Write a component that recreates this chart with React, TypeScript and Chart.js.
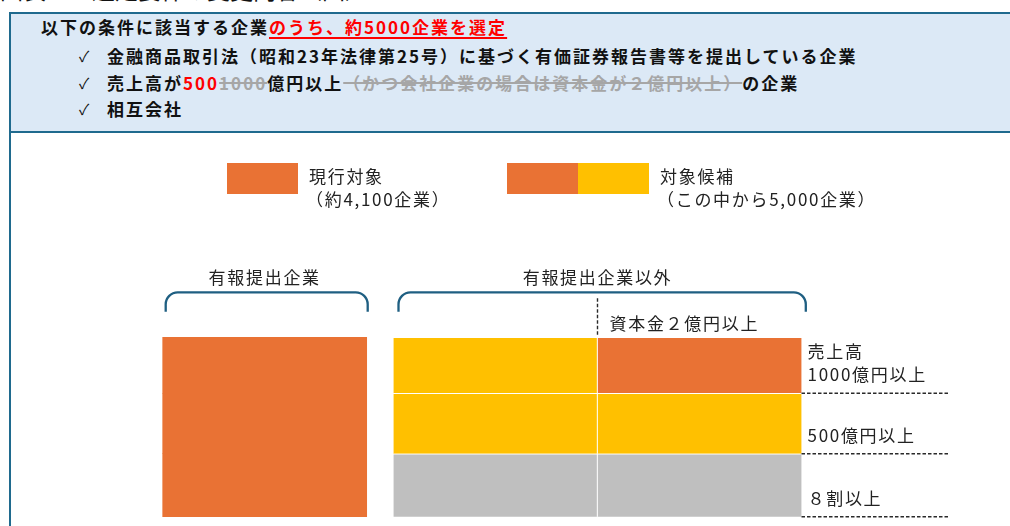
import React, { useEffect, useRef } from "react";
import { Chart, registerables } from "chart.js";

Chart.register(...registerables);

// ---------- data ----------
const groupLabels = ["有報提出企業", "有報提出企業以外"];
const capitalLabel = "資本金２億円以上";
// tiers from bottom to top
const rowLabels = [["８割以上"], ["500億円以上"], ["売上高", "1000億円以上"]];
const rowSizes = [63, 60.5, 56];
const leftColors = ["orange", "orange", "orange"];
const capLowColors = ["gray", "yellow", "yellow"];
const capHighColors = ["gray", "yellow", "orange"];
const legendTitles = ["現行対象", "対象候補"];
const legendNotes = ["（約4,100企業）", "（この中から5,000企業）"];

const PALETTE: Record<string, string> = {
  orange: "#E97234",
  yellow: "#FFC000",
  gray: "#BFBFBF",
};
const BORDER = "#1F6A8E";
const BRACKET = "#1F5F82";
const TEXT = "#222222";
const FONT = '"Noto Sans CJK JP", "Noto Sans", sans-serif';

const total = rowSizes.reduce((s, v) => s + v, 0);

const overlayPlugin = {
  id: "overlay",
  afterDatasetsDraw(chart: any) {
    const ctx: CanvasRenderingContext2D = chart.ctx;
    const ys = chart.scales.y;
    const span = (el: any) => [el.x - el.width / 2, el.x + el.width / 2];
    const [l0, l1] = span(chart.getDatasetMeta(0).data[0]);
    const [a0, a1] = span(chart.getDatasetMeta(0).data[1]);
    const [, b1] = span(chart.getDatasetMeta(1).data[1]);
    const topY = ys.getPixelForValue(total);

    ctx.save();
    ctx.font = `17px ${FONT}`;
    (ctx as any).letterSpacing = "1.7px";
    ctx.fillStyle = TEXT;
    ctx.textBaseline = "middle";

    // legend
    const sw = 71, sh = 31, ly = 163;
    ctx.fillStyle = PALETTE.orange;
    ctx.fillRect(227, ly, sw, sh);
    ctx.fillRect(507, ly, sw, sh);
    ctx.fillStyle = PALETTE.yellow;
    ctx.fillRect(578, ly, sw, sh);
    ctx.fillStyle = TEXT;
    ctx.textAlign = "left";
    const lx = [309, 660];
    for (let i = 0; i < 2; i++) {
      ctx.fillText(legendTitles[i], lx[i], 177);
      ctx.fillText(legendNotes[i], lx[i] - 3, 200);
    }

    // brackets and group labels
    const brackets = [
      [l0 + 3, l1 + 1, (l0 + l1) / 2],
      [a0 + 5, b1 + 4.3, (a0 + b1) / 2],
    ];
    const bTop = topY - 45;
    const bEnd = topY - 25.6;
    const r = 12;
    ctx.strokeStyle = BRACKET;
    ctx.lineWidth = 2.3;
    brackets.forEach(([x0, x1, cx], i) => {
      ctx.beginPath();
      ctx.moveTo(x0, bEnd);
      ctx.lineTo(x0, bTop + r);
      ctx.arcTo(x0, bTop, x0 + r, bTop, r);
      ctx.lineTo(x1 - r, bTop);
      ctx.arcTo(x1, bTop, x1, bTop + r, r);
      ctx.lineTo(x1, bEnd);
      ctx.stroke();
      ctx.textAlign = "center";
      ctx.fillText(groupLabels[i], cx, topY - 60);
    });

    // capital threshold
    ctx.strokeStyle = "#2a2a2a";
    ctx.lineWidth = 1.4;
    ctx.setLineDash([3.5, 2]);
    ctx.beginPath();
    ctx.moveTo(a1, topY - 39);
    ctx.lineTo(a1, topY - 2);
    ctx.stroke();
    ctx.textAlign = "left";
    ctx.fillText(capitalLabel, a1 + 12, topY - 14);

    // tier labels and dashed separators
    let cum = 0;
    rowSizes.forEach((v, i) => {
      const yb = ys.getPixelForValue(cum);
      cum += v;
      ctx.beginPath();
      ctx.moveTo(b1, yb);
      ctx.lineTo(b1 + 146.5, yb);
      ctx.stroke();
      const lines = rowLabels[i];
      lines.forEach((t, k) => {
        const yy = yb - 18.5 - (lines.length - 1 - k) * 23;
        ctx.fillText(t, b1 + 6, yy);
      });
    });
    ctx.restore();
  },
};

export default function App() {
  const ref = useRef<HTMLCanvasElement>(null);

  useEffect(() => {
    if (!ref.current) return;
    const datasets: any[] = [];
    rowSizes.forEach((v, i) => {
      datasets.push({
        label: rowLabels[i].join(" ") + " a",
        data: [v, v],
        stack: "a",
        backgroundColor: [PALETTE[leftColors[i]], PALETTE[capLowColors[i]]],
        borderColor: [PALETTE[leftColors[i]], "#ffffff"],
        borderWidth: (c: any) =>
          c.dataIndex === 0 ? 0 : { top: 1, right: 1, left: 0, bottom: 0 },
        borderSkipped: false,
        barThickness: 204,
        skipNull: true,
        clip: false,
      });
      datasets.push({
        label: rowLabels[i].join(" ") + " b",
        data: [null, v],
        stack: "b",
        backgroundColor: PALETTE[capHighColors[i]],
        borderColor: "#ffffff",
        borderWidth: { top: 1, right: 0, left: 0, bottom: 0 },
        borderSkipped: false,
        barThickness: 204,
        skipNull: true,
        clip: false,
      });
    });

    const chart = new Chart(ref.current, {
      type: "bar",
      data: { labels: groupLabels, datasets },
      options: {
        animation: false,
        responsive: false,
        maintainAspectRatio: false,
        layout: { padding: { left: 98.3, right: 246.1, top: 337.3, bottom: 9.3 } },
        plugins: { legend: { display: false }, tooltip: { enabled: false } },
        scales: {
          x: { type: "category", stacked: true, display: false, offset: true },
          y: { stacked: true, display: false, min: 0, max: total },
        },
      },
      plugins: [overlayPlugin],
    } as any);
    return () => chart.destroy();
  }, []);

  const lineStyle = (cy: number): React.CSSProperties => ({
    position: "absolute",
    top: cy - 13,
    left: 107,
    lineHeight: "24px",
    height: 24,
    whiteSpace: "nowrap",
    fontWeight: 700,
    fontSize: 17,
    letterSpacing: "2px",
    color: "#111",
  });
  const check = (cy: number): React.CSSProperties => ({
    position: "absolute",
    top: cy - 13,
    left: 79,
    lineHeight: "24px",
    fontSize: 15,
    color: "#111",
  });
  const red: React.CSSProperties = { color: "#FF0000" };
  const strike: React.CSSProperties = {
    color: "#A6A6A6",
    textDecoration: "line-through",
    textDecorationThickness: "2px",
  };

  return (
    <div
      style={{
        position: "absolute",
        left: 0,
        top: 0,
        width: 1010,
        height: 526,
        overflow: "hidden",
        background: "#ffffff",
        fontFamily: FONT,
      }}
    >
      <div
        style={{
          position: "absolute",
          left: 0,
          top: -24,
          fontSize: 23,
          lineHeight: "26px",
          whiteSpace: "nowrap",
          color: "#111",
        }}
      >
        図表１　選定要件の変更内容（図）
      </div>
      <div
        style={{
          position: "absolute",
          left: 9,
          top: 12,
          width: 1100,
          height: 116.5,
          borderTop: `2px solid ${BORDER}`,
          borderLeft: `2px solid ${BORDER}`,
          borderBottom: `2px solid ${BORDER}`,
          background: "#DCE9F6",
        }}
      />
      <div
        style={{
          position: "absolute",
          left: 9,
          top: 132,
          width: 2,
          height: 400,
          background: BORDER,
        }}
      />
      <div style={{ ...lineStyle(28), left: 41 }}>
        以下の条件に該当する企業
        <span
          style={{
            ...red,
            textDecoration: "underline",
            textDecorationThickness: "2px",
            textUnderlineOffset: "3px",
          }}
        >
          のうち、約5000企業を選定
        </span>
      </div>
      <div style={check(57)}>✓</div>
      <div style={lineStyle(57)}>
        金融商品取引法（昭和23年法律第25号）に基づく有価証券報告書等を提出している企業
      </div>
      <div style={check(84)}>✓</div>
      <div style={lineStyle(84)}>
        売上高が<span style={red}>500</span>
        <span style={strike}>1000</span>億円以上
        <span style={strike}>（かつ会社企業の場合は資本金が２億円以上）</span>の企業
      </div>
      <div style={check(110)}>✓</div>
      <div style={lineStyle(110)}>相互会社</div>
      <canvas
        ref={ref}
        width={1010}
        height={526}
        style={{ position: "absolute", left: 0, top: 0, width: 1010, height: 526 }}
      />
    </div>
  );
}
